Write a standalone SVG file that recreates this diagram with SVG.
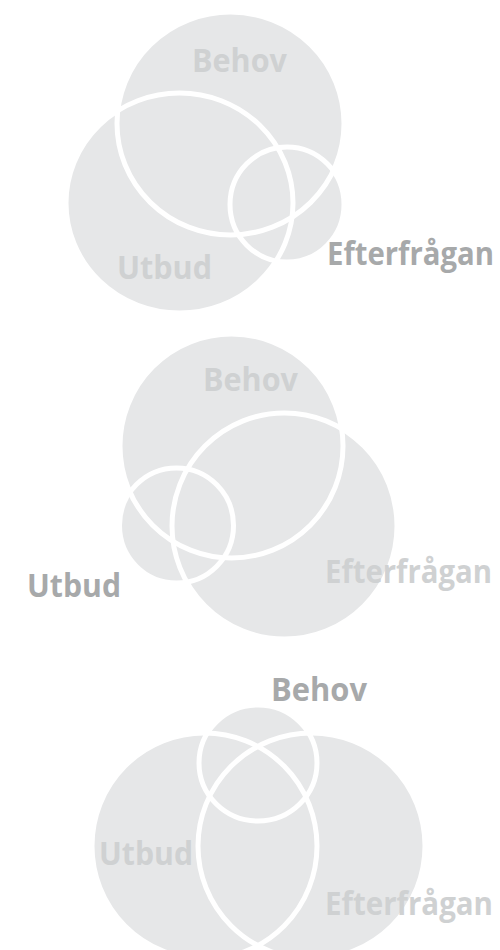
<svg xmlns="http://www.w3.org/2000/svg" width="500" height="950" viewBox="0 0 500 950">
<style>
.fill{fill:#e6e7e8;stroke:none}
.outline{fill:none;stroke:#ffffff;stroke-width:5}
.lbl{font-family:"Open Sans","Liberation Sans",sans-serif;font-weight:700;font-size:33px}
.in{fill:#cfd1d2}
.out{fill:#a7a9aa}
</style>
<rect width="500" height="950" fill="#ffffff"/>
<!-- Diagram 1 -->
<g id="d1">
<g id="d1-behov"><ellipse class="fill" cx="230.5" cy="123.5" rx="113.5" ry="111.5"/></g>
<g id="d1-utbud"><ellipse class="fill" cx="179.5" cy="203" rx="113.5" ry="110"/></g>
<g id="d1-efterfragan"><ellipse class="fill" cx="287" cy="204.5" rx="57" ry="57.5"/></g>
<g id="d1-outlines">
<ellipse class="outline" cx="230.5" cy="123.5" rx="113.5" ry="111.5"/>
<ellipse class="outline" cx="179.5" cy="203" rx="113.5" ry="110"/>
<ellipse class="outline" cx="287" cy="204.5" rx="57" ry="57.5"/>
</g>
<g id="d1-labels">
<text class="lbl in" x="192" y="72" textLength="95" lengthAdjust="spacingAndGlyphs">Behov</text>
<text class="lbl in" x="117" y="279" textLength="95" lengthAdjust="spacingAndGlyphs">Utbud</text>
<text class="lbl out" x="327" y="265" textLength="167" lengthAdjust="spacingAndGlyphs">Efterfrågan</text>
</g>
</g>
<!-- Diagram 2 -->
<g id="d2">
<g id="d2-behov"><ellipse class="fill" cx="231.5" cy="446" rx="111.5" ry="112"/></g>
<g id="d2-efterfragan"><ellipse class="fill" cx="284.5" cy="526" rx="112.5" ry="113"/></g>
<g id="d2-utbud"><ellipse class="fill" cx="176.5" cy="525.5" rx="57" ry="57.5"/></g>
<g id="d2-outlines">
<ellipse class="outline" cx="231.5" cy="446" rx="111.5" ry="112"/>
<ellipse class="outline" cx="284.5" cy="526" rx="112.5" ry="113"/>
<ellipse class="outline" cx="176.5" cy="525.5" rx="57" ry="57.5"/>
</g>
<g id="d2-labels">
<text class="lbl in" x="203" y="391" textLength="95" lengthAdjust="spacingAndGlyphs">Behov</text>
<text class="lbl in" x="325" y="583" textLength="167" lengthAdjust="spacingAndGlyphs">Efterfrågan</text>
<text class="lbl out" x="27" y="597" textLength="94" lengthAdjust="spacingAndGlyphs">Utbud</text>
</g>
</g>
<!-- Diagram 3 -->
<g id="d3">
<g id="d3-behov"><ellipse class="fill" cx="258" cy="763" rx="59" ry="58"/></g>
<g id="d3-utbud"><ellipse class="fill" cx="204.5" cy="846" rx="112.5" ry="113"/></g>
<g id="d3-efterfragan"><ellipse class="fill" cx="311.5" cy="846" rx="113.5" ry="113"/></g>
<g id="d3-outlines">
<ellipse class="outline" cx="258" cy="763" rx="59" ry="58"/>
<ellipse class="outline" cx="204.5" cy="846" rx="112.5" ry="113"/>
<ellipse class="outline" cx="311.5" cy="846" rx="113.5" ry="113"/>
</g>
<g id="d3-labels">
<text class="lbl out" x="271" y="701" textLength="96" lengthAdjust="spacingAndGlyphs">Behov</text>
<text class="lbl in" x="99" y="865" textLength="94" lengthAdjust="spacingAndGlyphs">Utbud</text>
<text class="lbl in" x="325" y="915" textLength="168" lengthAdjust="spacingAndGlyphs">Efterfrågan</text>
</g>
</g>
<g id="connectors"/>
</svg>
